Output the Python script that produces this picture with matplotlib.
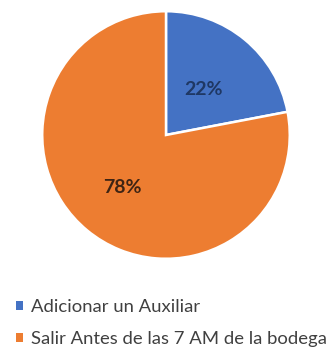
"""Pie chart: Adicionar un Auxiliar vs Salir Antes de las 7 AM."""
import numpy as np
import matplotlib
matplotlib.use("Agg")
import matplotlib.pyplot as plt
from matplotlib.patches import Patch

labels = ["Adicionar un Auxiliar", "Salir Antes de las 7 AM de la bodega"]
values = [22, 78]
colors = ["#4472C4", "#ED7D31"]
label_colors = ["#1F3864", "#3E2414"]
label_dist = [0.48, 0.55]

W, H = 326, 356
fig = plt.figure(figsize=(W / 100, H / 100), dpi=100)

# pie: centre (166, 135) px, radius 125 px
cx, cy, r = 166, 135, 125
ax = fig.add_axes([(cx - r) / W, 1 - (cy + r) / H, 2 * r / W, 2 * r / H])
wedges, _, autotexts = ax.pie(
    values, colors=colors, startangle=90, counterclock=False,
    autopct="%1.0f%%", radius=1.0,
    wedgeprops={"edgecolor": "white", "linewidth": 1.8},
)
for w, t, c, d in zip(wedges, autotexts, label_colors, label_dist):
    ang = np.deg2rad((w.theta1 + w.theta2) / 2)
    t.set_position((d * np.cos(ang), d * np.sin(ang)))
    t.set_color(c)
    t.set_fontsize(14)
    t.set_fontweight("bold")
    t.set_family("Lato")
ax.set_xlim(-1.01, 1.01)
ax.set_ylim(-1.01, 1.01)
ax.set_aspect("equal")
ax.axis("off")

handles = [Patch(facecolor=c, edgecolor="none") for c in colors]
fig.legend(handles, labels, loc="upper left", bbox_to_anchor=(0.025, 1 - 292 / H),
           frameon=False, handlelength=0.4, handleheight=0.4, handletextpad=0.45,
           borderaxespad=0, labelspacing=0.85, prop={"family": "Lato", "size": 13.3},
           labelcolor="#404040")

fig.savefig("out.png", dpi=100)
